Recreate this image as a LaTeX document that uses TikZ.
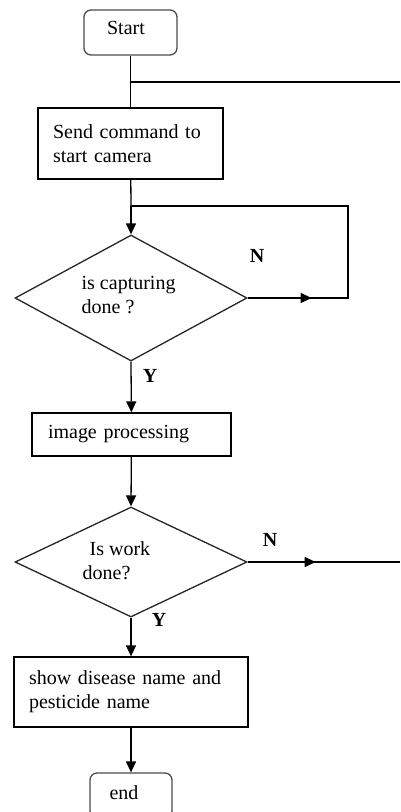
\documentclass[tikz,border=0pt]{standalone}
\usepackage{fontspec}
\setmainfont{Liberation Serif}
\usetikzlibrary{shapes.geometric,arrows.meta,decorations.markings}
\begin{document}
\begin{tikzpicture}[x=1pt,y=-1pt,
  font=\fontsize{20}{24}\selectfont,
  line width=1.3pt,
  flowbox/.style={draw, rectangle, align=left, inner xsep=15pt, inner ysep=0pt},
  term/.style={draw=black!70, rectangle, rounded corners=7pt, minimum width=82pt, minimum height=45pt},
  decision/.style={draw=black!85, diamond, inner sep=0pt, minimum width=232pt},
  txt/.style={inner sep=0pt, align=left},
  yn/.style={inner sep=0pt, font=\fontsize{20}{24}\selectfont\bfseries},
  tip/.style={-{Triangle[length=11pt,width=10pt]}},
  midtip/.style={postaction={decorate}, decoration={markings,
    mark=at position #1 with {\arrow{Triangle[length=11pt,width=10pt]}}}}]
\useasboundingbox (0,0) rectangle (400,812);
\clip (0,0) rectangle (400,812);

% process steps
\node[term, minimum width=93pt] (start) at (130.5,32.5) {};
\node[txt] (starttxt) at (126,28) {Start};
\node[flowbox, text width=155pt, minimum height=71pt] (send) at (130.5,143.5)
  {Send command to\\start camera};
\node[decision, minimum height=126pt] (cap) at (131,298) {};
\node[txt, anchor=west] (captxt) at (81,295) {is capturing\\done ?};
\node[flowbox, inner xsep=16pt, text width=167pt, minimum height=43pt] (proc) at (131.5,434.5)
  {image processing};
\node[decision, minimum height=110pt] (work) at (131,562) {};
\node[txt, anchor=west] (worktxt) at (82,561) {\hspace{7pt}Is work\\done?};
\node[flowbox, text width=204pt, minimum height=70pt] (show) at (131,692)
  {show disease name and\\pesticide name};
\node[term] (stop) at (131,795.5) {};
\node[txt] (stoptxt) at (124,793) {end};

% branch labels
\node[yn] (n1) at (257,256) {N};
\node[yn] (y1) at (150,376) {Y};
\node[yn] (n2) at (270,540) {N};
\node[yn] (y2) at (159,620) {Y};

% junctions and bends
\coordinate (j1) at (131,82);
\coordinate (e1) at (400,82);
\coordinate (j2) at (131,206);
\coordinate (c1) at (348,298);
\coordinate (e2) at (400,562);

% connectors
\draw (start) -- (send);
\draw (j1) -- (e1);
\draw (send) -- (j2);
\draw[tip] (j2) -- (cap.north);
\draw[midtip=64pt] (cap.east) -- (c1) |- (j2);
\draw[tip] (cap.south) -- (proc);
\draw[tip] (proc) -- (work.north);
\draw[midtip=68pt] (work.east) -- (e2);
\draw[tip] (work.south) -- (show);
\draw[tip] (show) -- (stop);
\end{tikzpicture}
\end{document}
